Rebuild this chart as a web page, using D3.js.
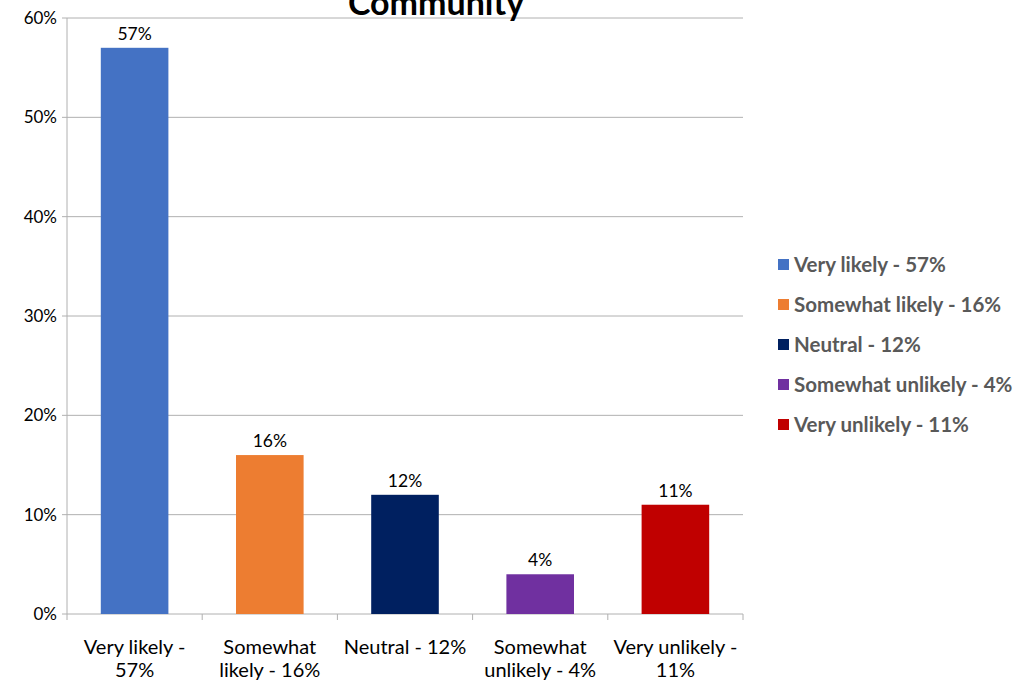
<!DOCTYPE html>
<html>
<head>
<meta charset="utf-8">
<script src="https://cdn.jsdelivr.net/npm/d3@7"></script>
<style>
  body { margin: 0; background: #fff; }
  text { font-family: Lato, 'Open Sans', sans-serif; }
</style>
</head>
<body>
<svg id="chart"></svg>
<script>
const W = 1016
const H = 681
const margins = { top: 18, left: 67, right: 273, bottom: 67 }
const w = W - margins.left - margins.right
const h = H - margins.top - margins.bottom

const categories = ['Very likely - 57%', 'Somewhat likely - 16%', 'Neutral - 12%', 'Somewhat unlikely - 4%', 'Very unlikely - 11%']
const catLines = [['Very likely -', '57%'], ['Somewhat', 'likely - 16%'], ['Neutral - 12%'], ['Somewhat', 'unlikely - 4%'], ['Very unlikely -', '11%']]
const values = [57, 16, 12, 4, 11]
const colors = ['#4472C4', '#ED7D31', '#002060', '#7030A0', '#C00000']
const yTicks = [0, 10, 20, 30, 40, 50, 60]

const outer = d3.select('svg#chart').attr('width', W).attr('height', H)
const inner = outer.append('g')
  .attr('transform', 'translate(' + margins.left + ',' + margins.top + ')')

const xScale = d3.scaleBand().domain(categories).range([0, w]).paddingInner(0.5).paddingOuter(0.25)
const xBand = d3.scaleBand().domain(categories).range([0, w])
const yScale = d3.scaleLinear().domain([0, 60]).range([h, 0])

// gridlines
inner.selectAll('line.grid').data(yTicks).enter().append('line')
  .attr('class', 'grid')
  .attr('x1', -5).attr('x2', w)
  .attr('y1', d => yScale(d)).attr('y2', d => yScale(d))
  .attr('stroke', '#b0b0b0').attr('stroke-width', 1)

// y axis line
inner.append('line').attr('x1', 0).attr('x2', 0).attr('y1', 0).attr('y2', h)
  .attr('stroke', '#b0b0b0')

// x tick marks at band boundaries
const bounds = categories.map(c => xBand(c)).concat([w])
inner.selectAll('line.xtick').data(bounds).enter().append('line')
  .attr('x1', d => d).attr('x2', d => d)
  .attr('y1', h).attr('y2', h + 6)
  .attr('stroke', '#b0b0b0')

// y tick labels
inner.selectAll('text.ylab').data(yTicks).enter().append('text')
  .attr('x', -10).attr('y', d => yScale(d) + 6)
  .attr('text-anchor', 'end')
  .attr('font-size', 17).attr('fill', '#000')
  .text(d => d + '%')

// bars
inner.selectAll('rect.bar').data(values).enter().append('rect')
  .attr('x', (d, i) => xScale(categories[i]))
  .attr('width', xScale.bandwidth())
  .attr('y', d => yScale(d))
  .attr('height', d => h - yScale(d))
  .attr('fill', (d, i) => colors[i])

// data labels
inner.selectAll('text.val').data(values).enter().append('text')
  .attr('x', (d, i) => xScale(categories[i]) + xScale.bandwidth() / 2)
  .attr('y', d => yScale(d) - 8)
  .attr('text-anchor', 'middle')
  .attr('font-size', 17.5).attr('fill', '#000')
  .text(d => d + '%')

// category labels
catLines.forEach(function (lines, i) {
  const cx = xBand(categories[i]) + xBand.bandwidth() / 2
  const t = inner.append('text')
    .attr('x', cx)
    .attr('y', h + 40)
    .attr('text-anchor', 'middle')
    .attr('font-size', 20).attr('fill', '#000')
  lines.forEach(function (l, j) {
    t.append('tspan')
      .attr('x', cx)
      .attr('dy', j === 0 ? 0 : 23)
      .text(l)
  })
})

// title (cut off at top)
outer.append('text')
  .attr('x', 436).attr('y', 15)
  .attr('text-anchor', 'middle')
  .attr('font-size', 34).attr('font-weight', 'bold').attr('fill', '#000')
  .text('Community')

// legend
const legend = outer.append('g').attr('transform', 'translate(778, 265)')
legend.selectAll('rect').data(categories).enter().append('rect')
  .attr('x', 0).attr('y', (d, i) => i * 40 - 6)
  .attr('width', 11).attr('height', 11)
  .attr('fill', (d, i) => colors[i])
legend.selectAll('text').data(categories).enter().append('text')
  .attr('x', 16).attr('y', (d, i) => i * 40 + 7)
  .attr('font-size', 20.5).attr('font-weight', 'bold').attr('fill', '#595959')
  .text(d => d)
</script>
</body>
</html>
